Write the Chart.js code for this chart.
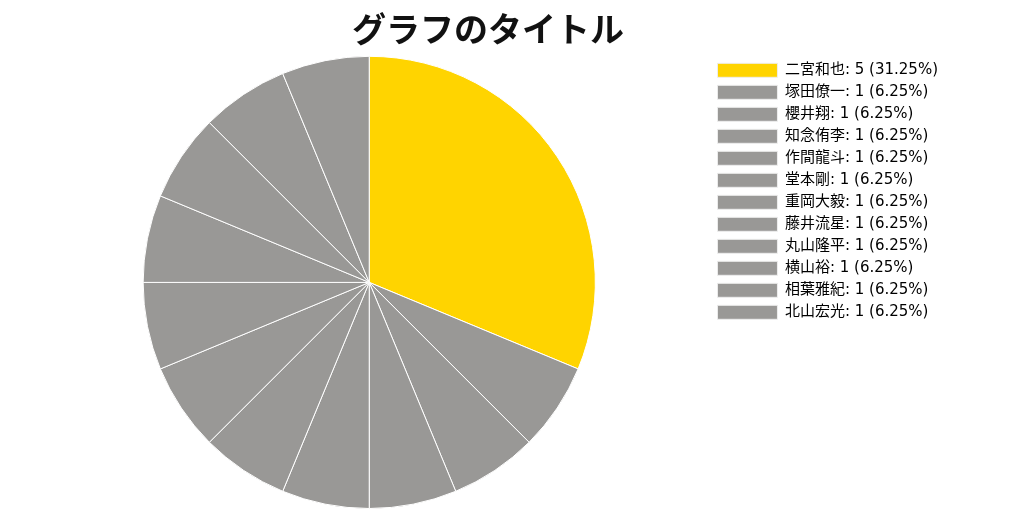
<!DOCTYPE html>
<html>
<head>
<meta charset="utf-8">
<script src="https://cdn.jsdelivr.net/npm/chart.js@4/dist/chart.umd.min.js"></script>
<style>
  html, body { margin: 0; padding: 0; background: #fff; }
  #wrap { width: 1024px; height: 512px; }
</style>
</head>
<body>
<div id="wrap"><canvas id="myChart"></canvas></div>
<script>
var names = ['二宮和也', '塚田僚一', '櫻井翔', '知念侑李', '作間龍斗', '堂本剛',
    '重岡大毅', '藤井流星', '丸山隆平', '横山裕', '相葉雅紀', '北山宏光'];
var votes = [5, 1, 1, 1, 1, 1, 1, 1, 1, 1, 1, 1];
var highlightColor = '#FFD400';
var otherColor = '#999896';
var titleFont = '"Noto Sans CJK JP", sans-serif';
var legendFont = '"DejaVu Sans", "Noto Sans CJK JP", sans-serif';

function plotChart(labels, datas) {
    var total = datas.reduce(function (a, b) { return a + b; }, 0);
    var colors = [];
    for (let i = 0; i < datas.length; i++) {
        colors[i] = i == 0 ? highlightColor : otherColor;
    }
    return new Chart(document.getElementById('myChart'), {
        type: 'pie',
        data: {
            labels: labels,
            datasets: [{
                data: datas,
                backgroundColor: colors,
                borderColor: '#ffffff',
                borderWidth: 1
            }]
        },
        options: {
            responsive: true,
            maintainAspectRatio: false,
            animation: false,
            layout: { padding: { top: 0, bottom: 3, left: 28, right: 76 } },
            plugins: {
                title: {
                    display: true,
                    text: 'グラフのタイトル',
                    color: '#111',
                    font: { family: titleFont, size: 34, weight: 'bold' },
                    padding: { top: 9, bottom: 6 }
                },
                legend: {
                    position: 'right',
                    align: 'start',
                    fullSize: false,
                    labels: {
                        boxWidth: 60,
                        boxHeight: 14,
                        padding: 7,
                        color: '#222',
                        font: { family: legendFont, size: 15 },
                        generateLabels: function (chart) {
                            return labels.map(function (name, i) {
                                var pct = (datas[i] / total * 100).toFixed(2);
                                return {
                                    text: name + ': ' + datas[i] + ' (' + pct + '%)',
                                    fillStyle: colors[i],
                                    strokeStyle: '#eeeeee',
                                    lineWidth: 1,
                                    index: i
                                };
                            });
                        }
                    }
                },
                tooltip: { enabled: false }
            }
        }
    });
}

var myChart = plotChart(names, votes);
</script>
</body>
</html>
